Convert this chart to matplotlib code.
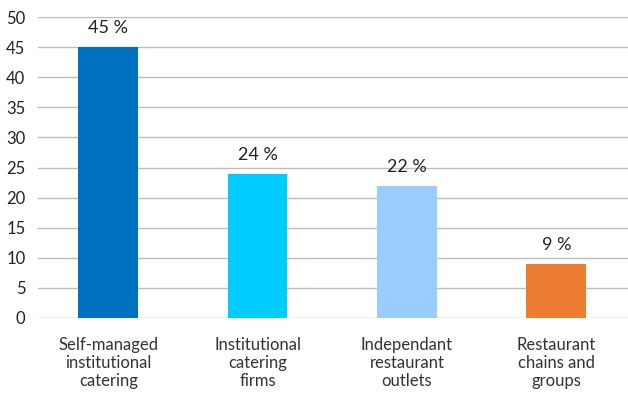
import matplotlib
matplotlib.use("Agg")
import matplotlib.pyplot as plt

categories = [
    "Self-managed\ninstitutional\ncatering",
    "Institutional\ncatering\nfirms",
    "Independant\nrestaurant\noutlets",
    "Restaurant\nchains and\ngroups",
]
values = [45, 24, 22, 9]
colors = ["#0070C0", "#00CCFF", "#99CCFF", "#ED7D31"]
yticks = [0, 5, 10, 15, 20, 25, 30, 35, 40, 45, 50]

plt.rcParams['font.family'] = ['Lato', 'DejaVu Sans']

fig = plt.figure(figsize=(6.28, 3.94), dpi=100)
ax = fig.add_axes([38 / 628, 76 / 394, 590 / 628, 301 / 394])

x = list(range(len(categories)))
ax.bar(x, values, width=0.4, color=colors, zorder=3)

for xi, v in zip(x, values):
    ax.text(xi, v + 1.8, f"{v} %", ha="center", va="bottom", fontsize=13, color="#222222")

ax.set_xlim(-0.47, 3.48)
ax.set_ylim(0, 50)
ax.set_yticks(yticks)
ax.yaxis.grid(True, color="#BDBDBD", linewidth=1, zorder=0)
ax.set_axisbelow(True)

ax.set_xticks(x)
ax.set_xticklabels(categories, fontsize=12, color="#333333", linespacing=1.15)
ax.tick_params(axis="x", length=0, pad=14)
ax.tick_params(axis="y", length=0, pad=9, labelsize=12, labelcolor="#222222")

for s in ax.spines.values():
    s.set_visible(False)

fig.savefig("out.png", dpi=100)
